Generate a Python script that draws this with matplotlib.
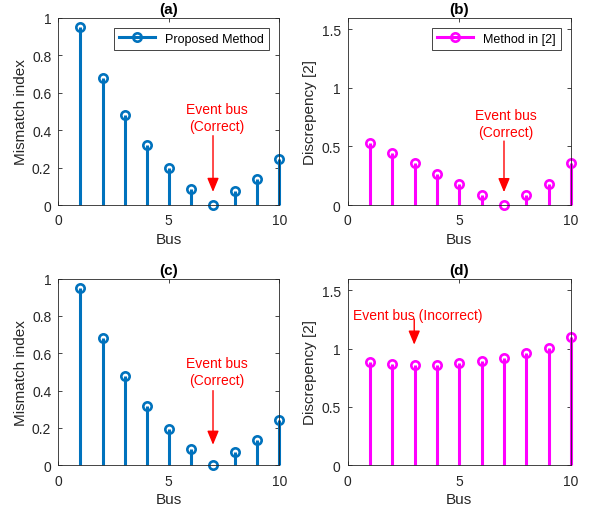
import matplotlib
matplotlib.use('Agg')
import matplotlib.pyplot as plt
from matplotlib.lines import Line2D
from matplotlib.legend_handler import HandlerLine2D

plt.rcParams['font.family'] = ['Liberation Sans', 'DejaVu Sans']
plt.rcParams['font.size'] = 10

# datos
bus = [1, 2, 3, 4, 5, 6, 7, 8, 9, 10]
mismatch = [0.95, 0.68, 0.48, 0.32, 0.195, 0.088, 0.0, 0.073, 0.138, 0.243]
discrep_ok = [0.531, 0.446, 0.357, 0.269, 0.18, 0.089, 0.0, 0.089, 0.18, 0.357]
discrep_bad = [0.886, 0.869, 0.863, 0.863, 0.877, 0.894, 0.923, 0.96, 1.003, 1.103]

azul = '#0072BD'
magenta = '#FF00FF'
gris = '#262626'


# marcador al final de la linea en la leyenda, como en MATLAB
class HandlerStem(HandlerLine2D):
    def get_xdata(self, legend, xdescent, ydescent, width, height, fontsize):
        xdata, _ = super().get_xdata(legend, xdescent, ydescent, width, height, fontsize)
        return xdata, [xdata[-1]]


def dibujar_stem(ax, x, y, color, etiqueta=None):
    for xi, yi in zip(x, y):
        ax.plot([xi, xi], [0, yi], color=color, lw=2.2, solid_capstyle='butt', clip_on=False)
    ax.plot(x, y, ls='none', marker='o', ms=6, mew=1.9, mfc='none', mec=color,
            clip_on=False, zorder=3)
    if etiqueta:
        h = Line2D([0, 1], [0, 0], color=color, lw=2.2, marker='o', ms=6, mew=1.9, mfc='none')
        leg = ax.legend([h], [etiqueta], loc='upper right', fontsize=9, handlelength=2.9,
                        fancybox=False, edgecolor=gris, framealpha=1, borderaxespad=0.8,
                        handler_map={Line2D: HandlerStem()})
        leg.get_frame().set_linewidth(0.6)
        leg.set_zorder(5)


def formato(ax, titulo, ylabel, ymax, yticks):
    ax.set_xlim(0, 10)
    ax.set_ylim(0, ymax)
    ax.set_xticks([0, 5, 10])
    ax.set_yticks(yticks)
    ax.set_yticklabels([('%g' % t) for t in yticks])
    ax.set_xlabel('Bus', fontsize=11, color=gris, labelpad=3)
    ax.set_ylabel(ylabel, fontsize=11, color=gris, labelpad=3)
    ax.set_title(titulo, fontsize=11, fontweight='bold', pad=3)
    ax.tick_params(direction='in', length=3, width=0.6, colors=gris, labelsize=10,
                   top=True, right=True)
    ax.tick_params(axis='x', pad=6)
    ax.tick_params(axis='y', pad=5)
    for s in ax.spines.values():
        s.set_color(gris)
        s.set_linewidth(0.6)
        s.set_zorder(4)


def flecha(ax, texto, xy, xytext_flecha, xtexto, ytexto):
    ax.annotate('', xy=xy, xytext=xytext_flecha,
                arrowprops=dict(arrowstyle='-|>,head_length=0.6,head_width=0.25',
                                color='red', lw=1, mutation_scale=14,
                                shrinkA=0, shrinkB=0))
    ax.text(xtexto, ytexto, texto, color='red', ha='center', va='center',
            fontsize=10, linespacing=1.25)


fig = plt.figure(figsize=(5.92, 5.10), dpi=100)
ax_a = fig.add_axes([0.0985, 0.596, 0.3733, 0.3676])
ax_b = fig.add_axes([0.5873, 0.596, 0.3772, 0.3676])
ax_c = fig.add_axes([0.0985, 0.0857, 0.3733, 0.366])
ax_d = fig.add_axes([0.5873, 0.0857, 0.3772, 0.366])

dibujar_stem(ax_a, bus, mismatch, azul, 'Proposed Method')
formato(ax_a, '(a)', 'Mismatch index', 1, [0, 0.2, 0.4, 0.6, 0.8, 1])
flecha(ax_a, 'Event bus\n(Correct)', (7.0, 0.07), (7.0, 0.37), 7.17, 0.467)

dibujar_stem(ax_b, bus, discrep_ok, magenta, 'Method in [2]')
formato(ax_b, '(b)', 'Discrepency [2]', 1.6, [0, 0.5, 1, 1.5])
flecha(ax_b, 'Event bus\n(Correct)', (7.0, 0.11), (7.0, 0.546), 7.09, 0.695)

dibujar_stem(ax_c, bus, mismatch, azul)
formato(ax_c, '(c)', 'Mismatch index', 1, [0, 0.2, 0.4, 0.6, 0.8, 1])
flecha(ax_c, 'Event bus\n(Correct)', (7.0, 0.11), (7.0, 0.40), 7.17, 0.503)

dibujar_stem(ax_d, bus, discrep_bad, magenta)
formato(ax_d, '(d)', 'Discrepency [2]', 1.6, [0, 0.5, 1, 1.5])
flecha(ax_d, 'Event bus (Incorrect)', (2.98, 1.034), (2.98, 1.254), 3.13, 1.291)

fig.savefig('out.png', dpi=100)
